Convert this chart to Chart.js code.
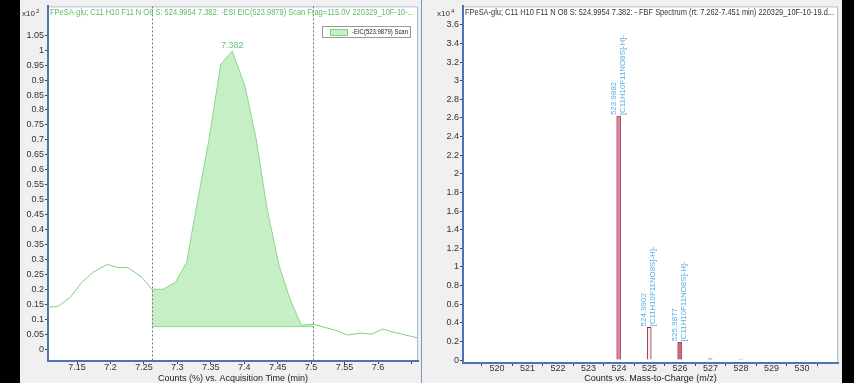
<!DOCTYPE html>
<html>
<head>
<meta charset="utf-8">
<script src="https://cdn.jsdelivr.net/npm/chart.js@4.4.1/dist/chart.umd.min.js"></script>
<style>
  body { margin: 0; background: #000; width: 854px; height: 383px; overflow: hidden; }
  .panel { position: absolute; top: 0; height: 383px; background: #f0f0f0; }
  #left { left: 20px; width: 401px; }
  #right { left: 422px; width: 420px; }
  #divider { position: absolute; left: 421px; top: 0; width: 1px; height: 383px; background: #7d96c0; }
</style>
</head>
<body>
<div class="panel" id="left"><canvas id="eic"></canvas></div>
<div id="divider"></div>
<div class="panel" id="right"><canvas id="spec"></canvas></div>
<script>
// EIC trace, counts in %, x10^2
const eicTimes = [7.107, 7.122, 7.14, 7.157, 7.174, 7.195, 7.211, 7.226, 7.247, 7.262, 7.279, 7.297, 7.314, 7.329, 7.347, 7.365, 7.382, 7.401, 7.418, 7.434, 7.452, 7.468, 7.485, 7.503, 7.536, 7.555, 7.573, 7.591, 7.607, 7.622, 7.66];
const eicCounts = [0.14, 0.143, 0.173, 0.223, 0.257, 0.283, 0.273, 0.273, 0.24, 0.2, 0.2, 0.223, 0.29, 0.48, 0.697, 0.953, 0.997, 0.88, 0.70, 0.47, 0.28, 0.17, 0.08, 0.083, 0.063, 0.047, 0.053, 0.05, 0.067, 0.057, 0.037];
const integStart = 7.262;
const integEnd = 7.503;
const integBaseline = 0.075;
const peakTime = 7.382;
const peakValue = 0.997;
const eicXTicks = [7.15, 7.2, 7.25, 7.3, 7.35, 7.4, 7.45, 7.5, 7.55, 7.6, 7.65];
const eicYTicks = [0, 0.05, 0.1, 0.15, 0.2, 0.25, 0.3, 0.35, 0.4, 0.45, 0.5, 0.55, 0.6, 0.65, 0.7, 0.75, 0.8, 0.85, 0.9, 0.95, 1, 1.05];

// spectrum, counts x10^4
const specMz = [523.9882, 524.9902, 525.9877, 526.99, 527.99];
const specCounts = [2.62, 0.35, 0.19, 0.02, 0.01];
const specMassLabels = ['523.9882', '524.9902', '525.9877', '', ''];
const specFormulaLabels = ['[C11H10F11NO8S]-H]-', '[C11H10F11NO8S]-H]-', '[C11H10F11NO8S]-H]-', '', ''];
const specXTicks = [519, 520, 521, 522, 523, 524, 525, 526, 527, 528, 529, 530, 531];
const specYTicks = [0, 0.2, 0.4, 0.6, 0.8, 1, 1.2, 1.4, 1.6, 1.8, 2, 2.2, 2.4, 2.6, 2.8, 3, 3.2, 3.4, 3.6];

const eicTitle = 'FPeSA-glu; C11 H10 F11 N O8 S: 524.9954 7.382: -ESI EIC(523.9879) Scan Frag=115.0V 220329_10F-10-...';
const specTitle = 'FPeSA-glu; C11 H10 F11 N O8 S: 524.9954 7.382: - FBF Spectrum (rt: 7.262-7.451 min) 220329_10F-10-19.d...';

const FONT = 'Liberation Sans, Arial, sans-serif';
const green = '#7fd07f';

function axisOpts(ticksList, min, max, size, labelFn, tickPad, title) {
  const opts = {
    type: 'linear',
    min: min,
    max: max,
    offset: false,
    afterBuildTicks: (s) => { s.ticks = ticksList.map(v => ({ value: v })); },
    afterFit: (s) => { if (s.isHorizontal()) s.height = size; else s.width = size; },
    ticks: {
      autoSkip: false, maxRotation: 0, color: '#333', padding: tickPad,
      font: { family: FONT, size: 9 },
      callback: labelFn
    },
    grid: { drawOnChartArea: false, tickLength: 3, color: '#444' },
    border: { color: '#4a74b4', width: 2 }
  };
  if (title) {
    opts.title = { display: true, text: title, color: '#222', font: { family: FONT, size: 9 }, padding: { top: 0, bottom: -1 } };
  }
  return opts;
}

function drawMultiplier(ctx, x, y, power) {
  ctx.fillStyle = '#333';
  ctx.textBaseline = 'middle';
  ctx.textAlign = 'left';
  ctx.font = '8px ' + FONT;
  ctx.fillText('x10', x, y);
  const w = ctx.measureText('x10').width;
  ctx.font = '6px ' + FONT;
  ctx.fillText(power, x + w + 1, y - 3);
}

// white plot area with a light frame on top and right
function drawFrame(ctx, a) {
  ctx.fillStyle = '#fff';
  ctx.fillRect(a.left, a.top, a.right - a.left, a.bottom - a.top);
  ctx.strokeStyle = '#a9bcd6';
  ctx.lineWidth = 1;
  ctx.beginPath();
  ctx.moveTo(a.left, a.top + 0.5);
  ctx.lineTo(a.right - 0.5, a.top + 0.5);
  ctx.lineTo(a.right - 0.5, a.bottom);
  ctx.stroke();
}

const eicDecor = {
  id: 'eicDecor',
  beforeDraw(chart) {
    drawFrame(chart.ctx, chart.chartArea);
  },
  afterDraw(chart) {
    const { ctx, chartArea: a, scales: { x, y } } = chart;
    ctx.save();
    // integration window markers
    ctx.strokeStyle = '#777';
    ctx.setLineDash([2, 2]);
    [integStart, integEnd].forEach(t => {
      const px = Math.round(x.getPixelForValue(t)) + 0.5;
      ctx.beginPath(); ctx.moveTo(px, a.top); ctx.lineTo(px, a.bottom); ctx.stroke();
    });
    ctx.setLineDash([]);
    // title
    ctx.font = '9px ' + FONT;
    ctx.fillStyle = '#5dbb5d';
    ctx.textBaseline = 'middle';
    ctx.textAlign = 'left';
    ctx.fillText(eicTitle, a.left + 2, 13, a.right - a.left - 6);
    drawMultiplier(ctx, 2, 14, '2');
    // peak label
    ctx.textAlign = 'center';
    ctx.fillStyle = '#6cc46c';
    ctx.font = '9px ' + FONT;
    ctx.fillText(peakTime.toFixed(3), x.getPixelForValue(peakTime), y.getPixelForValue(peakValue) - 6);
    // legend
    const lx = a.right - 96, ly = 26;
    ctx.fillStyle = '#fff';
    ctx.fillRect(lx, ly, 88, 11);
    ctx.strokeStyle = '#999';
    ctx.strokeRect(lx + 0.5, ly + 0.5, 88, 11);
    ctx.fillStyle = '#c8efc8';
    ctx.fillRect(lx + 8, ly + 3, 17, 6);
    ctx.strokeStyle = green;
    ctx.strokeRect(lx + 8.5, ly + 3.5, 17, 6);
    ctx.fillStyle = '#222';
    ctx.textAlign = 'left';
    ctx.font = '7px ' + FONT;
    ctx.fillText('-EIC(523.9879) Scan', lx + 30, ly + 6, 56);
    ctx.restore();
  }
};

const eicPoints = eicTimes.map((t, i) => ({ x: t, y: eicCounts[i] }));
const eicWindow = eicPoints.filter(p => p.x >= integStart && p.x <= integEnd);

new Chart(document.getElementById('eic').getContext('2d'), {
  type: 'line',
  data: {
    datasets: [
      {
        label: 'area',
        data: eicWindow,
        borderWidth: 0,
        pointRadius: 0,
        backgroundColor: 'rgba(160, 228, 160, 0.6)',
        fill: { value: integBaseline },
        tension: 0
      },
      {
        label: 'baseline',
        data: [{ x: integStart, y: integBaseline }, { x: integEnd, y: integBaseline }],
        borderColor: green,
        borderWidth: 1,
        pointRadius: 0,
        fill: false
      },
      {
        label: '-EIC(523.9879) Scan',
        data: eicPoints,
        borderColor: green,
        borderWidth: 1,
        pointRadius: 0,
        fill: false,
        tension: 0
      }
    ]
  },
  options: {
    responsive: true,
    maintainAspectRatio: false,
    animation: false,
    layout: { padding: { left: 0, right: 3, top: 5, bottom: 0 } },
    plugins: { legend: { display: false }, tooltip: { enabled: false } },
    scales: {
      x: axisOpts(eicXTicks, 7.1066, 7.6598, 22, (v) => (v === 7.65 ? '' : String(v)), -2,
        'Counts (%) vs. Acquisition Time (min)'),
      y: axisOpts(eicYTicks, -0.04, 1.1467, 28, (v) => String(v), 1)
    }
  },
  plugins: [eicDecor]
});

const specDecor = {
  id: 'specDecor',
  beforeDraw(chart) {
    drawFrame(chart.ctx, chart.chartArea);
  },
  afterDraw(chart) {
    const { ctx, chartArea: a, scales: { x, y } } = chart;
    ctx.save();
    ctx.font = '9px ' + FONT;
    ctx.fillStyle = '#333';
    ctx.textBaseline = 'middle';
    ctx.textAlign = 'left';
    ctx.fillText(specTitle, a.left + 2, 13, a.right - a.left - 6);
    drawMultiplier(ctx, 15, 14, '4');
    // vertical peak annotations
    ctx.fillStyle = '#5aaee0';
    ctx.font = '8px ' + FONT;
    specMz.forEach((mz, i) => {
      if (!specMassLabels[i]) return;
      const px = x.getPixelForValue(mz);
      const py = y.getPixelForValue(specCounts[i]) - 1;
      ctx.save();
      ctx.translate(px, py);
      ctx.rotate(-Math.PI / 2);
      ctx.textAlign = 'left';
      ctx.fillText(specMassLabels[i], 0, -5, 34);
      ctx.fillText(specFormulaLabels[i], 0, 4, 80);
      ctx.restore();
    });
    ctx.restore();
  }
};

new Chart(document.getElementById('spec').getContext('2d'), {
  type: 'bar',
  data: {
    datasets: [{
      label: 'FBF Spectrum',
      data: specMz.map((m, i) => ({ x: m, y: specCounts[i] })),
      backgroundColor: ['#e58593', '#fbeef0', '#d46a7b', '#d8d8e0', '#d8d8e0'],
      borderColor: ['#9a5a7a', '#8a3048', '#9a4a62', '#b8b8c8', '#b8b8c8'],
      borderWidth: 1,
      barThickness: 4
    }]
  },
  options: {
    responsive: true,
    maintainAspectRatio: false,
    animation: false,
    layout: { padding: { left: 0, right: 4, top: 3, bottom: 0 } },
    plugins: { legend: { display: false }, tooltip: { enabled: false } },
    scales: {
      x: axisOpts(specXTicks, 518.885, 531.18, 20, (v) => (v === 519 || v === 531 ? '' : String(v)), -3,
        'Counts vs. Mass-to-Charge (m/z)'),
      y: axisOpts(specYTicks, -0.032, 3.798, 41, (v) => String(v), 1)
    }
  },
  plugins: [specDecor]
});
</script>
</body>
</html>
